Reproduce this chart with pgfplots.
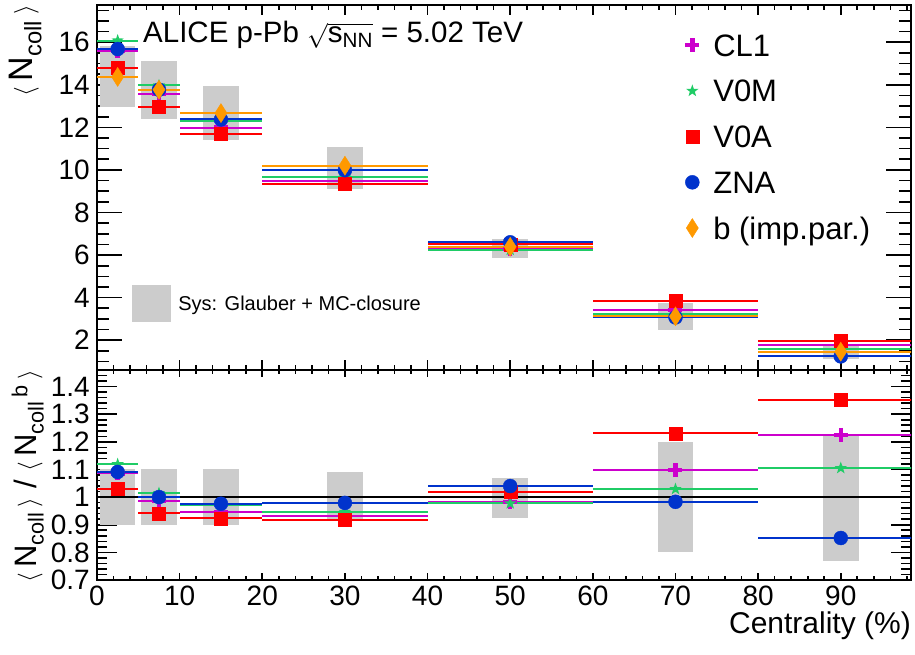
\documentclass[border=0pt]{standalone}
\usepackage{pgfplots}
\pgfplotsset{compat=1.18}
\usepackage{amsmath}
\usepackage{fontspec}
\setmainfont{Liberation Sans}
\definecolor{cmag}{HTML}{CC00CC}
\definecolor{cgreen}{HTML}{1FCC66}
\definecolor{cred}{HTML}{FF0000}
\definecolor{cblue}{HTML}{0033CC}
\definecolor{corange}{HTML}{FF9900}
\definecolor{sysgray}{HTML}{CCCCCC}
\pgfdeclareplotmark{fstar}{%
  \pgfpathmoveto{\pgfpointpolar{90}{\pgfplotmarksize}}%
  \pgfpathlineto{\pgfpointpolar{126}{0.40\pgfplotmarksize}}%
  \pgfpathlineto{\pgfpointpolar{162}{\pgfplotmarksize}}%
  \pgfpathlineto{\pgfpointpolar{198}{0.40\pgfplotmarksize}}%
  \pgfpathlineto{\pgfpointpolar{234}{\pgfplotmarksize}}%
  \pgfpathlineto{\pgfpointpolar{270}{0.40\pgfplotmarksize}}%
  \pgfpathlineto{\pgfpointpolar{306}{\pgfplotmarksize}}%
  \pgfpathlineto{\pgfpointpolar{342}{0.40\pgfplotmarksize}}%
  \pgfpathlineto{\pgfpointpolar{18}{\pgfplotmarksize}}%
  \pgfpathlineto{\pgfpointpolar{54}{0.40\pgfplotmarksize}}%
  \pgfpathclose
  \pgfusepathqfill
}
\pgfplotsset{
  ser/.style={only marks, color=#1, mark options={fill=#1, draw=#1, solid},
    error bars/x dir=both, error bars/x explicit, error bars/error mark=none,
    error bars/error bar style={line width=2pt, #1}},
  sCL/.style={ser=cmag, mark=+, mark size=7pt, mark options={line width=4.5pt}},
  sV0M/.style={ser=cgreen, mark=fstar, mark size=6.5pt},
  sV0A/.style={ser=cred, mark=square*, mark size=6.5pt},
  sZNA/.style={ser=cblue, mark=*, mark size=7pt},
  sB/.style={ser=corange, mark=diamond*, mark size=9.5pt, mark options={xscale=0.85}},
  sys/.style={fill=sysgray, draw=none, forget plot},
  common/.style={
    scale only axis, width=814pt,
    xmin=0, xmax=98.5,
    xtick={0,10,...,90},
    minor xtick={2,4,...,98},
    axis line style={line width=1.6pt},
    every tick/.style={line width=1.6pt, black},
    /pgf/number format/assume math mode=true,
    tick label style={font=\fontsize{28}{28}\selectfont},
    yticklabel style={inner sep=0pt, xshift=-7pt},
    xticklabel style={inner sep=0pt, yshift=-6pt, text depth=0pt},
  },
}
\begin{document}
\begin{tikzpicture}
\path[use as bounding box] (-97pt,5pt) rectangle (818pt,-650pt);
% ---------------- top panel
\begin{axis}[common,
  at={(0pt,0pt)}, anchor=north west, height=365pt,
  ymin=0.6, ymax=17.75,
  ytick={2,4,...,16}, minor ytick={1,1.5,...,17.5},
  xticklabels={},
  xtick style={/pgfplots/major tick length=10pt, /pgfplots/minor tick length=5pt},
  ytick style={/pgfplots/major tick length=25pt, /pgfplots/minor tick length=12pt},
  every axis y label/.style={at={(axis description cs:-0.088,1.0)}, anchor=east, rotate=90, inner sep=0pt},
  ylabel={\fontsize{34}{34}\selectfont $\langle$\,N\textsubscript{coll}\,$\rangle$},
  legend style={at={(axis description cs:0.7225,0.9205)}, anchor=north west,
    draw=none, fill=none, inner sep=0pt,
    font=\fontsize{31}{31}\selectfont, row sep=23.7pt,
    nodes={inner sep=0pt, text height=22pt, text depth=0pt, anchor=west}},
  legend cell align=left,
  legend image code/.code={\path[draw=none] (-7pt,0pt) -- (21pt,0pt); \draw[#1] plot coordinates {(0pt,0pt)};},
]
\addplot[sys] coordinates {(0.35,12.95) (4.65,12.95) (4.65,15.83) (0.35,15.83)};
\addplot[sys] coordinates {(5.35,12.41) (9.65,12.41) (9.65,15.12) (5.35,15.12)};
\addplot[sys] coordinates {(12.85,11.42) (17.15,11.42) (17.15,13.93) (12.85,13.93)};
\addplot[sys] coordinates {(27.85,9.10) (32.15,9.10) (32.15,11.07) (27.85,11.07)};
\addplot[sys] coordinates {(47.85,5.87) (52.15,5.87) (52.15,6.76) (47.85,6.76)};
\addplot[sys] coordinates {(67.85,2.49) (72.15,2.49) (72.15,3.75) (67.85,3.75)};
\addplot[sys] coordinates {(87.85,1.12) (92.15,1.12) (92.15,1.80) (87.85,1.80)};

\addplot[sCL] coordinates {(2.5,15.61) +- (2.5,0) (7.5,13.58) +- (2.5,0) (15,11.99) +- (5,0) (30,9.49) +- (10,0) (50,6.28) +- (10,0) (70,3.43) +- (10,0) (90,1.79) +- (10,0)};
\addlegendentry{CL1}
\addplot[sV0M] coordinates {(2.5,16.08) +- (2.5,0) (7.5,13.97) +- (2.5,0) (15,12.29) +- (5,0) (30,9.65) +- (10,0) (50,6.24) +- (10,0) (70,3.21) +- (10,0) (90,1.61) +- (10,0)};
\addlegendentry{V0M}
\addplot[sV0A] coordinates {(2.5,14.79) +- (2.5,0) (7.5,12.96) +- (2.5,0) (15,11.69) +- (5,0) (30,9.36) +- (10,0) (50,6.51) +- (10,0) (70,3.84) +- (10,0) (90,1.97) +- (10,0)};
\addlegendentry{V0A}
\addplot[sZNA] coordinates {(2.5,15.68) +- (2.5,0) (7.5,13.77) +- (2.5,0) (15,12.37) +- (5,0) (30,9.99) +- (10,0) (50,6.60) +- (10,0) (70,3.07) +- (10,0) (90,1.24) +- (10,0)};
\addlegendentry{ZNA}
\addplot[sB] coordinates {(2.5,14.37) +- (2.5,0) (7.5,13.77) +- (2.5,0) (15,12.67) +- (5,0) (30,10.20) +- (10,0) (50,6.39) +- (10,0) (70,3.12) +- (10,0) (90,1.46) +- (10,0)};
\addlegendentry{b (imp.par.)}

\node[anchor=base west, inner sep=0pt, font=\fontsize{29.5}{30}\selectfont] at (axis description cs:0.0565,0.898)
  {ALICE p-Pb $\sqrt{\text{s}_{\text{NN}}}$ = 5.02 TeV};
\end{axis}
% ---------------- bottom panel
\begin{axis}[common,
  at={(0pt,-365pt)}, anchor=north west, height=210pt,
  ymin=0.7, ymax=1.46,
  ytick={0.7,0.8,...,1.41}, minor ytick={0.72,0.74,...,1.45},
  yticklabels={0.7,0.8,0.9,1,1.1,1.2,1.3,1.4},
  xtick style={/pgfplots/major tick length=7pt, /pgfplots/minor tick length=4pt},
  ytick style={/pgfplots/major tick length=20pt, /pgfplots/minor tick length=10pt},
  xlabel={Centrality (\%)},
  every axis x label/.style={at={(axis description cs:1,0)}, anchor=north east, inner sep=0pt, yshift=-32pt, font=\fontsize{30}{30}\selectfont},
  every axis y label/.style={at={(axis description cs:-0.085,1.0)}, anchor=east, rotate=90, inner sep=0pt},
  ylabel={\fontsize{31}{31}\selectfont $\langle$\,N\textsubscript{coll}\,$\rangle$ / $\langle$\,N\textsubscript{coll}\textsuperscript{\,b}\,$\rangle$},
  legend style={at={(axis description cs:0.043,1.316)}, anchor=west,
    draw=none, fill=none, inner sep=0pt,
    font=\fontsize{20}{20}\selectfont,
    nodes={inner sep=0pt, text height=14.3pt, text depth=0pt, anchor=west}},
  legend image code/.code={\fill[sysgray] (0pt,-18pt) rectangle (38pt,18pt); \path[draw=none] (38pt,0pt) -- (46pt,0pt);},
]
\addplot[sys] coordinates {(0.35,0.9) (4.65,0.9) (4.65,1.1) (0.35,1.1)};
\addplot[sys] coordinates {(5.35,0.9) (9.65,0.9) (9.65,1.1) (5.35,1.1)};
\addplot[sys] coordinates {(12.85,0.9) (17.15,0.9) (17.15,1.1) (12.85,1.1)};
\addplot[sys] coordinates {(27.85,0.913) (32.15,0.913) (32.15,1.091) (27.85,1.091)};
\addplot[sys] coordinates {(47.85,0.925) (52.15,0.925) (52.15,1.07) (47.85,1.07)};
\addplot[sys] coordinates {(67.85,0.8) (72.15,0.8) (72.15,1.2) (67.85,1.2)};
\addplot[sys] coordinates {(87.85,0.768) (92.15,0.768) (92.15,1.23) (87.85,1.23)};
\addplot[black, line width=2.2pt, forget plot] coordinates {(0,1) (98.5,1)};

\addplot[sCL, forget plot] coordinates {(2.5,1.086) +- (2.5,0) (7.5,0.986) +- (2.5,0) (15,0.946) +- (5,0) (30,0.930) +- (10,0) (50,0.983) +- (10,0) (70,1.098) +- (10,0) (90,1.225) +- (10,0)};
\addplot[sV0M, forget plot] coordinates {(2.5,1.119) +- (2.5,0) (7.5,1.0145) +- (2.5,0) (15,0.970) +- (5,0) (30,0.946) +- (10,0) (50,0.977) +- (10,0) (70,1.029) +- (10,0) (90,1.105) +- (10,0)};
\addplot[sV0A, forget plot] coordinates {(2.5,1.029) +- (2.5,0) (7.5,0.941) +- (2.5,0) (15,0.923) +- (5,0) (30,0.918) +- (10,0) (50,1.019) +- (10,0) (70,1.231) +- (10,0) (90,1.351) +- (10,0)};
\addplot[sZNA, forget plot] coordinates {(2.5,1.091) +- (2.5,0) (7.5,1.0) +- (2.5,0) (15,0.976) +- (5,0) (30,0.979) +- (10,0) (50,1.04) +- (10,0) (70,0.983) +- (10,0) (90,0.852) +- (10,0)};

\addlegendimage{sysgray}
\addlegendentry{Sys: Glauber + MC-closure}
\end{axis}
\end{tikzpicture}
\end{document}
